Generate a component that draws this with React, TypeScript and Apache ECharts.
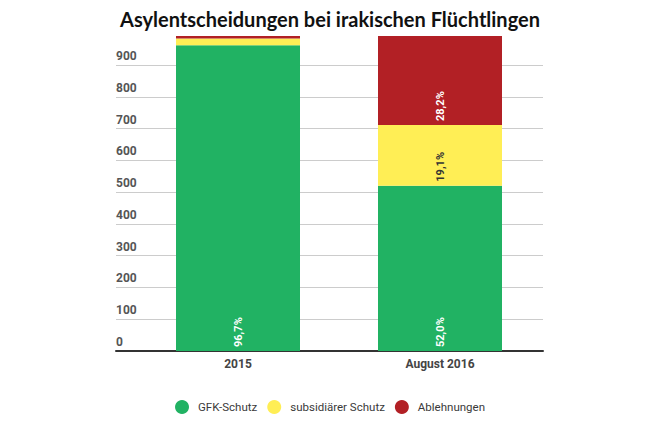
import React, { useEffect, useRef } from "react";
import * as echarts from "echarts";

const categories = ["2015", "August 2016"];
const gfkSchutz = [962, 520];
const subsidiaer = [21, 191];
const ablehnungen = [8, 280];
const gfkLabels = ["96,7%", "52,0%"];
const subsidiaerLabels = ["", "19,1%"];
const ablehnungenLabels = ["", "28,2%"];
const seriesNames = ["GFK-Schutz", "subsidiärer Schutz", "Ablehnungen"];
const colors = ["#21b263", "#ffee55", "#b22025"];

export default function App() {
  const ref = useRef<HTMLDivElement>(null);
  useEffect(() => {
    if (!ref.current) return;
    const chart = echarts.init(ref.current, null, { renderer: "svg" });
    const font = "Roboto, 'Noto Sans', sans-serif";
    const mkLabel = (arr: string[], color: string) => ({
      show: true,
      position: "insideBottom",
      rotate: 90,
      align: "left",
      verticalAlign: "middle",
      distance: 4,
      color,
      fontFamily: font,
      fontWeight: "bold",
      fontSize: 11,
      formatter: (p: any) => arr[p.dataIndex],
    });
    const seriesData = [gfkSchutz, subsidiaer, ablehnungen];
    const labelData = [gfkLabels, subsidiaerLabels, ablehnungenLabels];
    const labelColors = ["#ffffff", "#333333", "#ffffff"];
    chart.setOption({
      animation: false,
      color: colors,
      title: {
        text: "Asylentscheidungen bei irakischen Flüchtlingen",
        left: "center",
        top: 4,
        textStyle: {
          fontFamily: "Lato, 'Open Sans', sans-serif",
          fontWeight: "bold",
          fontSize: 20,
          color: "#111",
        },
      },
      legend: {
        data: seriesNames,
        left: "center",
        top: 395,
        icon: "circle",
        itemWidth: 14,
        itemHeight: 14,
        itemGap: 10,
        textStyle: {
          fontFamily: font,
          fontSize: 11.5,
          color: "#3a3a3a",
          padding: [0, 0, 0, 4],
        },
      },
      grid: [
        { left: 137, right: 119, top: 36, bottom: 89 },
        { left: 116, right: 117, top: 65, bottom: 89 },
      ],
      xAxis: [
        {
          type: "category",
          gridIndex: 0,
          data: categories,
          axisLine: { show: false },
          axisTick: { show: false },
          axisLabel: {
            margin: 7,
            fontFamily: font,
            fontWeight: "bold",
            fontSize: 12,
            color: "#444",
          },
        },
        {
          type: "category",
          gridIndex: 1,
          data: categories,
          axisLine: { show: true, lineStyle: { color: "#333", width: 2 } },
          axisTick: { show: false },
          axisLabel: { show: false },
        },
      ],
      yAxis: [
        {
          type: "value",
          gridIndex: 0,
          min: 0,
          max: 991,
          show: false,
          splitLine: { show: false },
        },
        {
          type: "value",
          gridIndex: 1,
          min: 0,
          max: 900,
          interval: 100,
          axisLine: { show: false },
          axisTick: { show: false },
          splitLine: { show: true, lineStyle: { color: "#cccccc", width: 1 } },
          axisLabel: {
            inside: true,
            margin: 0,
            align: "left",
            verticalAlign: "bottom",
            padding: [0, 0, 3, 0],
            fontFamily: font,
            fontWeight: "bold",
            fontSize: 12,
            color: "#555",
          },
        },
      ],
      series: seriesData.map((d, i) => ({
        name: seriesNames[i],
        type: "bar",
        stack: "total",
        xAxisIndex: 0,
        yAxisIndex: 0,
        barWidth: 124,
        data: d,
        itemStyle: { color: colors[i] },
        label: mkLabel(labelData[i], labelColors[i]),
        z: 3,
      })),
    });
    return () => chart.dispose();
  }, []);
  return (
    <div
      ref={ref}
      style={{ position: "fixed", left: 0, top: 0, width: 660, height: 440, background: "#fff" }}
    />
  );
}
